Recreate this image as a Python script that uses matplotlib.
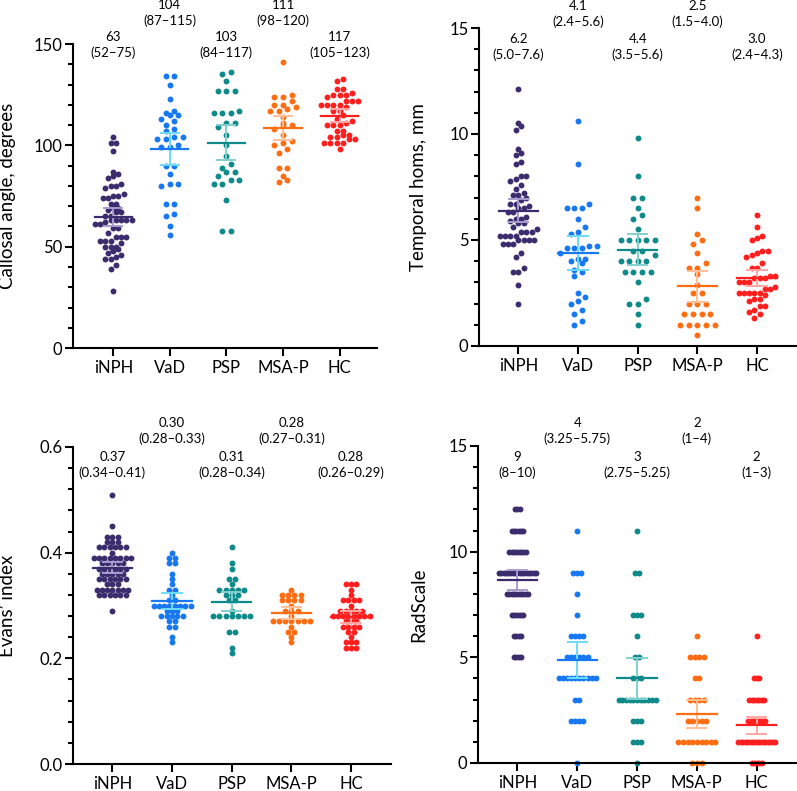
import numpy as np
import matplotlib
matplotlib.use('Agg')
import matplotlib.pyplot as plt
from matplotlib.ticker import MultipleLocator

plt.rcParams['font.family'] = ['Lato', 'DejaVu Sans']

groups = ['iNPH', 'VaD', 'PSP', 'MSA-P', 'HC']
colors = ['#3b2c6e', '#1778f2', '#0f8a8a', '#ff6d12', '#ff1f1f']
ci_colors = ['#a89cd0', '#6edcf7', '#80d0d0', '#ffbf98', '#ffa6a6']

# callosal angle, degrees
ca_inph = [104, 101, 101, 97, 87, 86, 85, 84, 81, 80, 80, 79, 76, 75, 75, 74, 74, 71, 71, 69, 69, 68,
           67, 67, 65, 65, 63, 63, 63, 63, 63, 62, 61, 61, 59, 59, 57, 55, 55, 55, 53, 53, 53, 52,
           50, 50, 50, 49, 48, 47, 46, 45, 44, 44, 41, 39, 28]
ca_vad = [134, 134, 130, 123, 117, 116, 115, 115, 113, 112, 110, 108, 107, 104, 104, 103, 103, 100,
          99, 99, 90, 90, 86, 81, 81, 80, 71, 71, 66, 65, 60, 56]
ca_psp = [136, 135, 132, 127, 127, 127, 117, 116, 116, 116, 111, 111, 109, 105, 100, 95, 91, 89, 87,
          87, 85, 83, 83, 81, 81, 73, 58, 58]
ca_msa = [141, 125, 124, 124, 122, 120, 120, 119, 118, 117, 117, 114, 111, 110, 110, 108, 105, 102,
          101, 100, 98, 96, 89, 89, 85, 83, 82]
ca_hc = [133, 132, 128, 128, 126, 125, 125, 125, 124, 122, 122, 122, 120, 120, 120, 120, 119, 117,
         117, 115, 113, 112, 111, 110, 110, 110, 107, 107, 105, 105, 104, 104, 103, 103, 101, 101,
         101, 101, 98]

# temporal horns, mm
th_inph = [12.1, 10.5, 10.4, 10.2, 9.3, 9.1, 9.0, 8.7, 8.6, 8.0, 8.0, 7.9, 7.8, 7.6, 7.4, 7.2, 7.1,
           7.1, 7.0, 6.9, 6.7, 6.7, 6.6, 6.5, 6.5, 6.3, 6.3, 6.1, 6.0, 6.0, 5.9, 5.8, 5.8, 5.6, 5.5,
           5.4, 5.4, 5.4, 5.2, 5.2, 5.2, 5.2, 5.0, 5.0, 5.0, 5.0, 4.8, 4.8, 4.8, 4.4, 4.2, 3.7, 3.5,
           3.5, 2.9, 2.0]
th_vad = [10.6, 8.6, 6.7, 6.5, 6.5, 6.5, 6.0, 5.6, 5.4, 5.3, 4.7, 4.7, 4.6, 4.6, 4.6, 4.4, 4.1, 4.1,
          4.0, 3.9, 3.6, 3.5, 3.3, 2.5, 2.3, 2.1, 2.0, 1.7, 1.5, 1.2, 1.0]
th_psp = [9.8, 8.0, 7.0, 7.0, 6.5, 6.2, 6.0, 5.5, 5.0, 5.0, 5.0, 5.0, 5.0, 4.5, 4.5, 4.3, 4.0, 4.0,
          4.0, 4.0, 3.5, 3.5, 3.5, 3.5, 3.0, 2.2, 2.0, 2.0, 1.5, 1.0]
th_msa = [7.0, 6.5, 5.3, 5.0, 4.8, 4.4, 3.9, 3.7, 3.7, 3.4, 2.9, 2.5, 2.5, 2.0, 2.0, 2.0, 1.5, 1.5,
          1.5, 1.5, 1.0, 1.0, 1.0, 1.0, 1.0, 0.5]
th_hc = [6.2, 5.6, 5.2, 5.1, 5.0, 4.5, 4.5, 4.4, 4.3, 4.2, 3.9, 3.7, 3.7, 3.3, 3.3, 3.2, 3.2, 3.2,
         3.0, 3.0, 3.0, 2.8, 2.7, 2.7, 2.5, 2.5, 2.5, 2.5, 2.5, 2.4, 2.2, 2.2, 2.1, 1.9, 1.9, 1.7,
         1.6, 1.5, 1.3]

# Evans' index
ei_inph = [0.51, 0.45, 0.43, 0.43, 0.43, 0.42, 0.42, 0.42, 0.41, 0.41, 0.41, 0.41, 0.41, 0.41, 0.40,
           0.39, 0.39, 0.39, 0.39, 0.39, 0.39, 0.39, 0.39, 0.38, 0.38, 0.38, 0.38, 0.38, 0.37, 0.37,
           0.37, 0.37, 0.37, 0.37, 0.36, 0.36, 0.36, 0.36, 0.36, 0.35, 0.35, 0.35, 0.35, 0.35, 0.35,
           0.34, 0.34, 0.34, 0.33, 0.33, 0.33, 0.33, 0.33, 0.33, 0.33, 0.32, 0.32, 0.32, 0.32, 0.32,
           0.32, 0.29]
ei_vad = [0.40, 0.39, 0.39, 0.38, 0.38, 0.36, 0.35, 0.34, 0.33, 0.33, 0.32, 0.31, 0.31, 0.30, 0.30,
          0.30, 0.30, 0.30, 0.30, 0.30, 0.30, 0.29, 0.29, 0.29, 0.28, 0.28, 0.28, 0.28, 0.28, 0.27,
          0.27, 0.26, 0.26, 0.24, 0.23]
ei_psp = [0.41, 0.38, 0.37, 0.35, 0.35, 0.34, 0.33, 0.33, 0.33, 0.33, 0.33, 0.32, 0.32, 0.32, 0.31,
          0.31, 0.29, 0.28, 0.28, 0.28, 0.28, 0.28, 0.28, 0.28, 0.25, 0.25, 0.22, 0.21]
ei_msa = [0.33, 0.32, 0.32, 0.32, 0.32, 0.31, 0.31, 0.31, 0.31, 0.30, 0.29, 0.29, 0.29, 0.28, 0.27,
          0.27, 0.27, 0.27, 0.27, 0.27, 0.27, 0.26, 0.25, 0.25, 0.24, 0.23]
ei_hc = [0.34, 0.34, 0.34, 0.33, 0.32, 0.31, 0.31, 0.31, 0.31, 0.30, 0.29, 0.29, 0.29, 0.29, 0.29,
         0.28, 0.28, 0.28, 0.28, 0.28, 0.28, 0.28, 0.28, 0.27, 0.27, 0.27, 0.26, 0.26, 0.26, 0.26,
         0.25, 0.25, 0.24, 0.23, 0.23, 0.23, 0.22, 0.22, 0.22]

# RadScale
rs_inph = [12, 12, 12, 11, 11, 11, 11, 11, 11, 10, 10, 10, 10, 10, 10, 10, 10,
           9, 9, 9, 9, 9, 9, 9, 9, 9, 9, 9, 9, 9, 9, 9, 9, 9,
           8, 8, 8, 8, 8, 8, 8, 8, 8, 8, 7, 7, 7, 7, 7, 7, 6, 6, 6, 6, 5, 5, 5, 5]
rs_vad = [11, 9, 9, 9, 8, 7, 6, 6, 6, 6, 5, 5, 5, 5, 5, 5, 4, 4, 4, 4, 4, 4, 4, 4, 4, 4,
          3, 3, 2, 2, 2, 2, 0]
rs_psp = [11, 9, 9, 7, 7, 7, 6, 5, 5, 4, 4, 4, 3, 3, 3, 3, 3, 3, 3, 3, 3, 3, 3,
          2, 2, 2, 1, 1, 1, 0]
rs_msa = [6, 5, 5, 5, 5, 4, 4, 3, 3, 3, 3, 2, 2, 2, 2, 2, 1, 1, 1, 1, 1, 1, 1, 1, 1, 0, 0, 0]
rs_hc = [6, 4, 4, 4, 3, 3, 3, 3, 3, 3, 3, 2, 2, 2, 2, 2, 2, 2, 2,
         1, 1, 1, 1, 1, 1, 1, 1, 1, 1, 1, 1, 1, 1, 1, 1, 0, 0, 0, 0, 0]

# median (IQR) labels above the groups
ca_labels = ['63\n(52\u201375)', '104\n(87\u2013115)', '103\n(84\u2013117)', '111\n(98\u2013120)', '117\n(105\u2013123)']
th_labels = ['6.2\n(5.0\u20137.6)', '4.1\n(2.4\u20135.6)', '4.4\n(3.5\u20135.6)', '2.5\n(1.5\u20134.0)', '3.0\n(2.4\u20134.3)']
ei_labels = ['0.37\n(0.34\u20130.41)', '0.30\n(0.28\u20130.33)', '0.31\n(0.28\u20130.34)', '0.28\n(0.27\u20130.31)', '0.28\n(0.26\u20130.29)']
rs_labels = ['9\n(8\u201310)', '4\n(3.25\u20135.75)', '3\n(2.75\u20135.25)', '2\n(1\u20134)', '2\n(1\u20133)']


def swarm(vals, row_h, step, max_w):
    # rows of near-equal values, spread side by side around the group centre
    vals = np.asarray(vals, float)
    order = np.argsort(vals)
    rows = []
    for i in order:
        if rows and vals[i] - vals[rows[-1][0]] < row_h:
            rows[-1].append(i)
        else:
            rows.append([i])
    nmax = max(len(r) for r in rows)
    if nmax > 1:
        step = min(step, max_w / (nmax - 1))
    off = np.zeros(len(vals))
    for r in rows:
        n = len(r)
        for k, i in enumerate(r):
            off[i] = (k - (n - 1) / 2) * step
    return off


def mean_ci(vals):
    v = np.asarray(vals, float)
    n = len(v)
    z = 1.96
    t = z + (z ** 3 + z) / (4 * (n - 1))
    return v.mean(), t * v.std(ddof=1) / np.sqrt(n)


def panel(ax, data, labels, ylim, major, minor, ylabel, row_h, unit_px, lab_y, ylab_x,
          xlim=(-0.66, 4.67)):
    step = 8.6 / unit_px
    max_w = 37 / unit_px
    for i, vals in enumerate(data):
        off = swarm(vals, row_h, step, max_w)
        ax.scatter(i + off, vals, s=18, color=colors[i], linewidths=0, zorder=2, clip_on=False)
        m, h = mean_ci(vals)
        ax.plot([i, i], [m - h, m + h], color=ci_colors[i], lw=1.4, zorder=3)
        for yy in (m - h, m + h):
            ax.plot([i - 0.16, i + 0.16], [yy, yy], color=ci_colors[i], lw=1.4, zorder=3)
        ax.plot([i - 0.33, i + 0.33], [m, m], color=colors[i], lw=1.6, zorder=4)
        ax.text(i, lab_y[i % 2], labels[i], ha='center', va='center', fontsize=9.5,
                linespacing=1.3, transform=ax.get_xaxis_transform(), clip_on=False)

    ax.set_xlim(*xlim)
    ax.set_ylim(*ylim)
    ax.set_xticks(range(len(groups)))
    ax.set_xticklabels(groups, fontsize=12)
    ax.yaxis.set_major_locator(MultipleLocator(major))
    ax.yaxis.set_minor_locator(MultipleLocator(minor))
    ax.tick_params(axis='y', which='major', length=6, width=1.5, labelsize=12, pad=1.5)
    ax.tick_params(axis='y', which='minor', length=3.5, width=1.5)
    ax.tick_params(axis='x', length=5.5, width=1.5, pad=3)
    for sp in ['top', 'right']:
        ax.spines[sp].set_visible(False)
    for sp in ['left', 'bottom']:
        ax.spines[sp].set_linewidth(1.5)
    ax.set_ylabel(ylabel, fontsize=13.5)
    ax.yaxis.set_label_coords(ylab_x, 0.5)


fig = plt.figure(figsize=(7.97, 7.91), dpi=100)

ax1 = fig.add_axes([0.0916, 0.560, 0.3814, 0.3843])
panel(ax1, [ca_inph, ca_vad, ca_psp, ca_msa, ca_hc], ca_labels, (0, 150), 50, 10,
      'Callosal angle, degrees', 3.0, 56.6, (0.998, 1.102), -0.187, xlim=(-0.71, 4.66))

ax2 = fig.add_axes([0.601, 0.5626, 0.399, 0.402])
panel(ax2, [th_inph, th_vad, th_psp, th_msa, th_hc], th_labels, (0, 15), 5, 1,
      'Temporal homs, mm', 0.3, 59.75, (0.940, 1.044), -0.164)

ax3 = fig.add_axes([0.0916, 0.0341, 0.399, 0.4008])
panel(ax3, [ei_inph, ei_vad, ei_psp, ei_msa, ei_hc], ei_labels, (0, 0.6), 0.2, 0.04,
      'Evans\u2019 index', 0.005, 59.75, (0.943, 1.050), -0.179)
ax3.yaxis.set_major_formatter(matplotlib.ticker.FormatStrFormatter('%.1f'))

ax4 = fig.add_axes([0.5997, 0.0354, 0.400, 0.4008])
panel(ax4, [rs_inph, rs_vad, rs_psp, rs_msa, rs_hc], rs_labels, (0, 15), 5, 1,
      'RadScale', 0.5, 59.75, (0.940, 1.047), -0.16)

fig.savefig('out.png', dpi=100)
